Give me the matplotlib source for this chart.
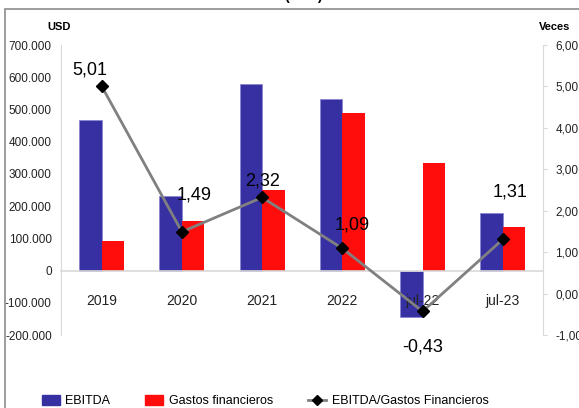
import matplotlib
matplotlib.use("Agg")
import matplotlib.pyplot as plt
from matplotlib.patches import Rectangle
from matplotlib.lines import Line2D
import numpy as np

plt.rcParams['font.family'] = ['Liberation Sans', 'DejaVu Sans']

categorias = ["2019", "2020", "2021", "2022", "jul-22", "jul-23"]
ebitda = [467000, 230000, 579000, 531000, -145000, 178000]
gastos = [93000, 153000, 249000, 488000, 334000, 135000]
cobertura = [5.01, 1.49, 2.32, 1.09, -0.43, 1.31]
etiquetas = ["5,01", "1,49", "2,32", "1,09", "-0,43", "1,31"]
# offset of each data label from its marker (px)
offs = [(-12, 16), (12, 37), (0, 16), (10, 23), (0, -36), (7, 47)]

azul = "#3730A3"
rojo = "#FF0D0D"
gris = "#D9D9D9"

fig = plt.figure(figsize=(5.79, 4.08), dpi=100)
ax = fig.add_axes([0.1062, 0.1789, 0.8316, 0.7108])

x = np.arange(len(categorias))
w = 0.28
ax.bar(x - w/2, ebitda, w, color=azul, edgecolor="#8C86D0", linewidth=0.6, zorder=1)
ax.bar(x + w/2, gastos, w, color=rojo, zorder=1)

ax.set_xlim(-0.5, 5.5)
ax.set_ylim(-200000, 700000)
ax.set_yticks(np.arange(-200000, 700001, 100000))
ax.set_yticklabels([f"{v:,.0f}".replace(",", ".") for v in np.arange(-200000, 700001, 100000)])
ax.tick_params(axis="y", length=0, labelsize=8.5, pad=7, labelcolor="#222222")

ax.spines["top"].set_visible(False)
ax.spines["right"].set_visible(False)
ax.spines["left"].set_color(gris)
ax.spines["bottom"].set_position(("data", 0))
ax.spines["bottom"].set_color(gris)
ax.spines["bottom"].set_linewidth(1.2)
ax.set_xticks(x)
ax.set_xticklabels(categorias)
ax.tick_params(axis="x", length=0, labelsize=10, pad=17, labelcolor="#222222")

ax2 = ax.twinx()
ax2.set_ylim(-1, 6)
ax2.set_yticks(np.arange(-1, 7, 1))
ax2.set_yticklabels([f"{v:.2f}".replace(".", ",") for v in np.arange(-1, 7, 1)])
ax2.tick_params(axis="y", length=3, color=gris, labelsize=8.5, pad=6, labelcolor="#222222")
for s in ["top", "left", "bottom"]:
    ax2.spines[s].set_visible(False)
ax2.spines["right"].set_color(gris)

ax2.plot(x, cobertura, color="#808080", linewidth=2, marker="D", markersize=6,
         markerfacecolor="black", markeredgecolor="black", zorder=3)
for xi, yi, t, (dx, dy) in zip(x, cobertura, etiquetas, offs):
    ax2.annotate(t, (xi, yi), xytext=(dx * 0.72, dy * 0.72), textcoords="offset points",
                 ha="center", va="center", fontsize=13)

fig.text(59/579, 1 - 27/408, "USD", ha="center", va="center", fontsize=8, fontweight="bold")
fig.text(555/579, 1 - 27/408, "Veces", ha="center", va="center", fontsize=8, fontweight="bold")
fig.text(304/579, 1.0, "(USD)", ha="center", va="baseline", fontsize=10, fontweight="bold")

fig.patches.append(Rectangle((5/579, -0.1), 1.2, 1.1 - 9/408, transform=fig.transFigure,
                             fill=False, edgecolor="#8C8C8C", linewidth=1.2))

handles = [Rectangle((0, 0), 1, 1, color=azul),
           Rectangle((0, 0), 1, 1, color=rojo),
           Line2D([], [], color="#808080", linewidth=2, marker="D", markersize=5,
                  markerfacecolor="black", markeredgecolor="black")]
fig.legend(handles, ["EBITDA", "Gastos financieros", "EBITDA/Gastos Financieros"],
           loc="center", bbox_to_anchor=(0.458, 0.017), ncol=3, frameon=False,
           fontsize=9, handlelength=1.44, handleheight=0.9, handletextpad=0.45,
           columnspacing=2.8)

fig.savefig("out.png", dpi=100)
